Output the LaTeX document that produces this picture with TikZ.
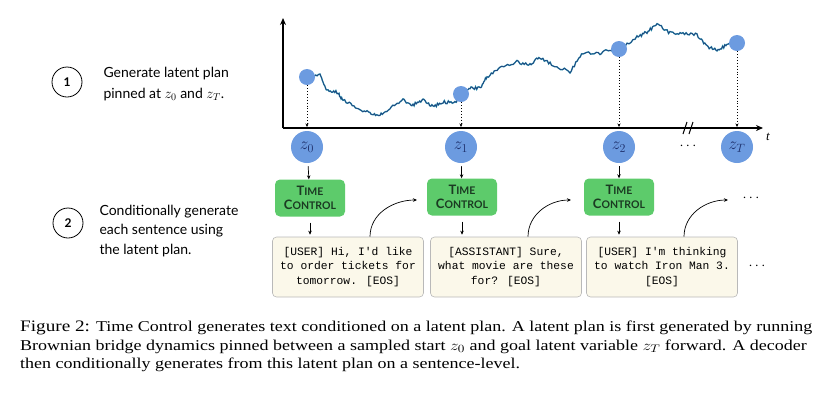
\documentclass[tikz,border=0pt]{standalone}
\usepackage{fontspec}
\setmainfont{Liberation Serif}
\newfontfamily\labelfont{Lato}
\newfontfamily\codefont{Liberation Mono}
\usetikzlibrary{arrows.meta,calc}

\definecolor{latentblue}{HTML}{6C9BE0}
\definecolor{latentink}{HTML}{1D2F6B}
\definecolor{tcgreen}{HTML}{5DCB6B}
\definecolor{tcink}{HTML}{1B3A22}
\definecolor{sentfill}{HTML}{FBF8EA}
\definecolor{walkteal}{HTML}{2E8FAE}
\definecolor{walknavy}{HTML}{1F3F7A}

\newcommand{\tclabel}{{\fontsize{13}{13}\selectfont T}{\fontsize{10.5}{13}\selectfont IME}\\[2pt]%
  {\fontsize{13}{13}\selectfont C}{\fontsize{10.5}{13}\selectfont ONTROL}}

\begin{document}
\begin{tikzpicture}[x=1pt, y=-1pt,
    step num/.style={circle, draw, line width=0.8pt, minimum size=30pt, inner sep=0pt,
                     font=\labelfont\bfseries\fontsize{12}{12}\selectfont},
    note/.style={font=\labelfont\fontsize{14}{19.5}\selectfont, align=left, anchor=west},
    axis/.style={line width=1.4pt, -{Stealth[length=7pt,width=6pt]}},
    pindot/.style={circle, fill=latentblue, minimum size=16pt, inner sep=0pt},
    latent/.style={circle, fill=latentblue, minimum size=32pt, inner sep=0pt,
                   text=latentink, font=\fontsize{17}{17}\selectfont},
    tcbox/.style={rounded corners=5pt, fill=tcgreen, minimum width=70pt, minimum height=37pt,
                  inner sep=1pt, align=center, text=tcink, font=\labelfont\bfseries},
    sentbox/.style={rounded corners=4pt, draw=gray!55, fill=sentfill, line width=0.6pt,
                    minimum width=151pt, minimum height=60pt, align=center,
                    font=\codefont\fontsize{11.3}{14.3}\selectfont},
    flow/.style={-{Stealth[length=4pt,width=3.5pt]}, line width=0.7pt},
    pin/.style={dotted, line width=0.9pt, -{Stealth[length=3.5pt,width=3pt]}},
    walk/.style={line width=0.6pt, walknavy, line join=round,
                 preaction={draw, walkteal, line width=1.4pt}},
    dots/.style={font=\fontsize{15}{15}\selectfont},
    caption/.style={font=\fontsize{15}{18.3}\selectfont, align=left, anchor=north west,
                    inner sep=0pt},
]
\useasboundingbox (0,0) rectangle (822,392);

% steps
\node[step num] (one) at (67,82) {1};
\node[note] at (100,84) {Generate latent plan\\[2pt]pinned at $z_0$ and $z_T$.};
\node[step num] (two) at (68,223) {2};
\node[note] at (96,231) {Conditionally generate\\each sentence using\\the latent plan.};

% axes
\coordinate (o) at (283,128);
\coordinate (ytop) at (283,18);
\coordinate (tend) at (763,128);
\draw[axis] (o) -- (ytop);
\draw[axis] (o) -- (tend);
\node[font=\itshape\fontsize{13}{13}\selectfont] (t) at (768,137) {t};
\coordinate (brk) at (688,128);
\draw[line width=1pt] ($(brk)+(-5,6)$) -- ($(brk)+(-1,-6)$);
\draw[line width=1pt] ($(brk)+(1,6)$) -- ($(brk)+(5,-6)$);

% brownian bridge
\coordinate (w0) at (307,77);
\foreach \x/\y [count=\i] in {320/75, 327/90, 337/92, 343/100, 357/108, 370/113, 380/115,
    390/108, 403/100, 413/105, 423/100, 433/107, 443/102, 455/103, 461/94, 470/88,
    480/88, 487/77, 500/67, 517/62, 530/65, 540/57, 553/65, 570/72, 583/53, 600/53,
    613/49, 619/49, 637/37, 647/32, 657/24, 670/33, 683/33, 697/35, 707/47, 717/50,
    727/45, 737/43}
  {\coordinate (w\i) at (\x,\y);}
\pgfmathsetseed{11}
\foreach \i [evaluate=\i as \j using int(\i-1)] in {1,...,38} {
  \foreach \k in {1,...,9} {
    \pgfmathsetmacro\dy{1.6*rand}
    \pgfmathtruncatemacro\n{9*\j+\k}
    \coordinate (b\n) at ($(w\j)!\k/9!(w\i)+(0,\dy)$);
  }
}
\draw[walk] (w0) \foreach \n in {1,...,341} {-- (b\n)} -- (w38);

% pinned points
\node[pindot] (d0) at (307,77) {};
\node[pindot] (d1) at (461,94) {};
\node[pindot] (d2) at (619,49) {};
\node[pindot] (d3) at (737,43) {};
\foreach \n/\x in {0/307, 1/461, 2/619, 3/737} {
  \coordinate (a\n) at (\x,127);
  \draw[pin] (d\n) -- (a\n);
}

% latents
\node[latent] (z0) at (307,147) {$z_0$};
\node[latent] (z1) at (461,147) {$z_1$};
\node[latent] (z2) at (619,147) {$z_2$};
\node[latent] (zT) at (737,147) {$z_T$};
\node[dots] (zdots) at (688,146) {$\cdots$};

% decoder
\node[tcbox] (tc0) at (310,198) {\tclabel};
\node[tcbox] (tc1) at (462,197) {\tclabel};
\node[tcbox] (tc2) at (619,197) {\tclabel};
\node[sentbox] (s0) at (348,267) {[USER] Hi, I'd like\\to order tickets for\\{}tomorrow. [EOS]};
\node[sentbox] (s1) at (506,267) {[ASSISTANT] Sure,\\what movie are these\\{}for? [EOS]};
\node[sentbox] (s2) at (662,267) {[USER] I'm thinking\\to watch Iron Man 3.\\{}[EOS]};
\node[dots] (sdots) at (757,266) {$\cdots$};
\node[dots] (tdots) at (751,198) {$\cdots$};

\foreach \n in {0,1,2} {
  \draw[flow, shorten <=3pt] (z\n) -- (tc\n);
  \draw[flow, shorten <=6pt, shorten >=2pt] (tc\n) -- (tc\n |- s\n.north);
}
\coordinate (c0) at (417,200);
\coordinate (c1) at (571,200);
\coordinate (c2) at (728,200);
\foreach \n in {0,1,2}
  \draw[flow] ([xshift=22pt]s\n.north) to[out=90, in=180] (c\n);

% caption
\node[caption] (cap) at (20,321) {\scalebox{1.2}[1]{\parbox[t]{680pt}{\raggedright
{\fontsize{16}{18.3}\selectfont Figure 2:} Time Control generates text conditioned on a latent plan. A latent plan is first generated by running\\
Brownian bridge dynamics pinned between a sampled start $z_0$ and goal latent variable $z_T$ forward. A decoder\\
then conditionally generates from this latent plan on a sentence-level.}}};

\end{tikzpicture}
\end{document}
